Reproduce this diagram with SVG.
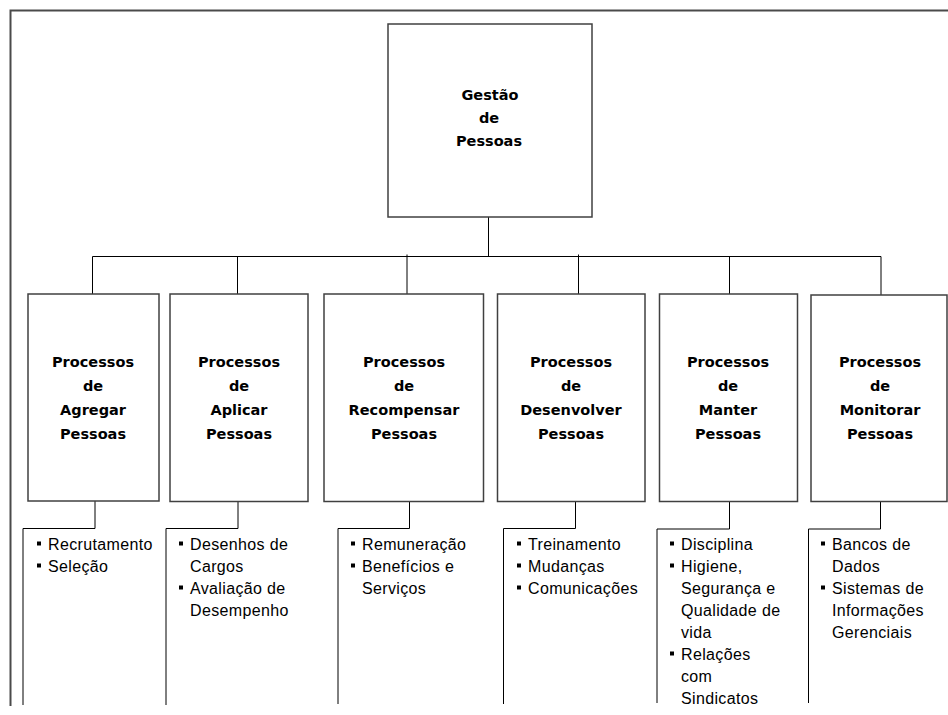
<svg xmlns="http://www.w3.org/2000/svg" width="948" height="715" viewBox="0 0 948 715">
<style>
.frame{fill:none;stroke:#4a4a4a;stroke-width:2}
.box{fill:#fff;stroke:#404040;stroke-width:1.5}
.con{fill:none;stroke:#000;stroke-width:1}
.t{font-family:"DejaVu Sans",Verdana,sans-serif;font-weight:bold;font-size:14.5px;fill:#000;text-anchor:middle}
.b{font-family:"Liberation Sans",Arial,sans-serif;font-size:16px;letter-spacing:0.35px;fill:#000}
.bl{fill:#000}
</style>
<rect width="948" height="715" fill="#fff"/>
<g id="frame">
<polyline class="frame" points="10.5,706 10.5,10.5 948,10.5"/>
</g>
<g id="connectors">
<line class="con" x1="488.5" y1="217" x2="488.5" y2="256.5"/>
<line class="con" x1="92.5" y1="256.5" x2="881" y2="256.5"/>
<line class="con" x1="92.5" y1="256.5" x2="92.5" y2="294"/>
<line class="con" x1="237.5" y1="256.5" x2="237.5" y2="294"/>
<line class="con" x1="407" y1="254.5" x2="407" y2="294"/>
<line class="con" x1="578.5" y1="254.5" x2="578.5" y2="294"/>
<line class="con" x1="729.5" y1="256.5" x2="729.5" y2="294"/>
<line class="con" x1="881" y1="256.5" x2="881" y2="295"/>
<polyline class="con" points="95,489 95,528.5 23,528.5 23,705"/>
<polyline class="con" points="238,491 238,528.5 166,528.5 166,705"/>
<polyline class="con" points="409.5,491 409.5,528.5 338,528.5 338,704"/>
<polyline class="con" points="575.5,491 575.5,528.5 503.5,528.5 503.5,704"/>
<polyline class="con" points="729.5,490 729.5,529 657,529 657,703"/>
<polyline class="con" points="880.5,490 880.5,529 808.5,529 808.5,703"/>
</g>
<g id="root">
<rect class="box" x="388" y="24" width="204" height="193"/>
<text class="t" x="490" y="99.5">Gestão</text>
<text class="t" x="489" y="122.5">de</text>
<text class="t" x="489" y="145.5">Pessoas</text>
</g>
<g id="n1">
<rect class="box" x="28" y="294" width="131" height="207"/>
<text class="t" x="93" y="367">Processos</text>
<text class="t" x="93" y="391">de</text>
<text class="t" x="93" y="415">Agregar</text>
<text class="t" x="93" y="439">Pessoas</text>
</g>
<g id="n2">
<rect class="box" x="170" y="294" width="138" height="207.5"/>
<text class="t" x="239" y="367">Processos</text>
<text class="t" x="239" y="391">de</text>
<text class="t" x="239" y="415">Aplicar</text>
<text class="t" x="239" y="439">Pessoas</text>
</g>
<g id="n3">
<rect class="box" x="324" y="294" width="159.5" height="207.5"/>
<text class="t" x="404" y="367">Processos</text>
<text class="t" x="404" y="391">de</text>
<text class="t" x="404" y="415">Recompensar</text>
<text class="t" x="404" y="439">Pessoas</text>
</g>
<g id="n4">
<rect class="box" x="497.5" y="294" width="147.5" height="207.5"/>
<text class="t" x="571" y="367">Processos</text>
<text class="t" x="571" y="391">de</text>
<text class="t" x="571" y="415">Desenvolver</text>
<text class="t" x="571" y="439">Pessoas</text>
</g>
<g id="n5">
<rect class="box" x="659.5" y="294" width="138" height="207.5"/>
<text class="t" x="728" y="367">Processos</text>
<text class="t" x="728" y="391">de</text>
<text class="t" x="728" y="415">Manter</text>
<text class="t" x="728" y="439">Pessoas</text>
</g>
<g id="n6">
<rect class="box" x="811" y="295" width="136" height="206.5"/>
<text class="t" x="880" y="367">Processos</text>
<text class="t" x="880" y="391">de</text>
<text class="t" x="880" y="415">Monitorar</text>
<text class="t" x="880" y="439">Pessoas</text>
</g>
<g id="list1">
<rect class="bl" x="37" y="541.5" width="4" height="4"/>
<text class="b" x="48" y="549.5">Recrutamento</text>
<rect class="bl" x="37" y="563.5" width="4" height="4"/>
<text class="b" x="48" y="571.5">Seleção</text>
</g>
<g id="list2">
<rect class="bl" x="179" y="541.5" width="4" height="4"/>
<text class="b" x="190" y="549.5">Desenhos de</text>
<text class="b" x="190" y="571.5">Cargos</text>
<rect class="bl" x="179" y="585.5" width="4" height="4"/>
<text class="b" x="190" y="593.5">Avaliação de</text>
<text class="b" x="190" y="615.5">Desempenho</text>
</g>
<g id="list3">
<rect class="bl" x="351" y="541.5" width="4" height="4"/>
<text class="b" x="362" y="549.5">Remuneração</text>
<rect class="bl" x="351" y="563.5" width="4" height="4"/>
<text class="b" x="362" y="571.5">Benefícios e</text>
<text class="b" x="362" y="593.5">Serviços</text>
</g>
<g id="list4">
<rect class="bl" x="517" y="541.5" width="4" height="4"/>
<text class="b" x="528" y="549.5">Treinamento</text>
<rect class="bl" x="517" y="563.5" width="4" height="4"/>
<text class="b" x="528" y="571.5">Mudanças</text>
<rect class="bl" x="517" y="585.5" width="4" height="4"/>
<text class="b" x="528" y="593.5">Comunicações</text>
</g>
<g id="list5">
<rect class="bl" x="670" y="541.5" width="4" height="4"/>
<text class="b" x="681" y="549.5">Disciplina</text>
<rect class="bl" x="670" y="563.5" width="4" height="4"/>
<text class="b" x="681" y="571.5">Higiene,</text>
<text class="b" x="681" y="593.5">Segurança e</text>
<text class="b" x="681" y="615.5">Qualidade de</text>
<text class="b" x="681" y="637.5">vida</text>
<rect class="bl" x="670" y="651.5" width="4" height="4"/>
<text class="b" x="681" y="659.5">Relações</text>
<text class="b" x="681" y="681.5">com</text>
<text class="b" x="681" y="703.5">Sindicatos</text>
</g>
<g id="list6">
<rect class="bl" x="821" y="541.5" width="4" height="4"/>
<text class="b" x="832" y="549.5">Bancos de</text>
<text class="b" x="832" y="571.5">Dados</text>
<rect class="bl" x="821" y="585.5" width="4" height="4"/>
<text class="b" x="832" y="593.5">Sistemas de</text>
<text class="b" x="832" y="615.5">Informações</text>
<text class="b" x="832" y="637.5">Gerenciais</text>
</g>
</svg>
